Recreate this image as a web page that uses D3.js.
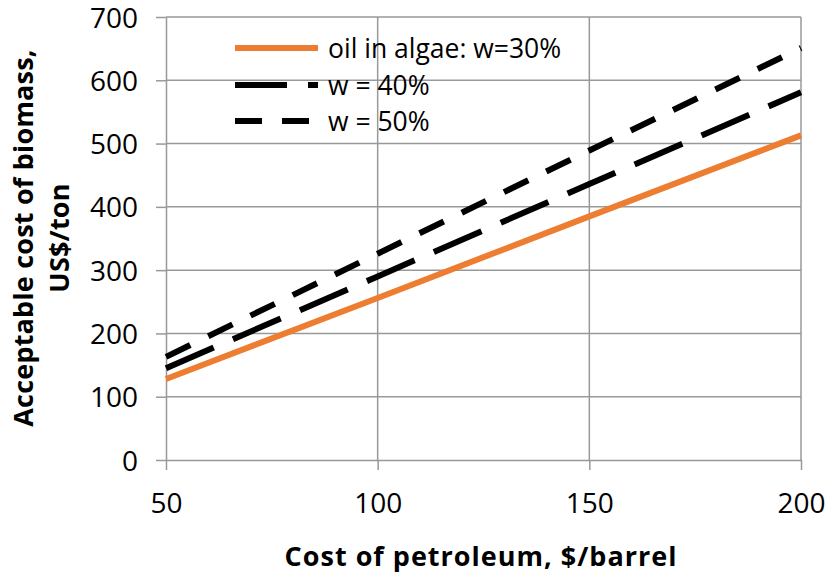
<!DOCTYPE html>
<html><head><meta charset="utf-8">
<script src="https://cdn.jsdelivr.net/npm/d3@7"></script>
<style>body{margin:0;background:#fff;} svg text{font-family:"Open Sans",sans-serif;fill:#000;}</style>
</head><body>
<svg id="c" width="827" height="574"></svg>
<script>
const petroleum = [50, 100, 150, 200];
const w30 = [128, 256, 385, 513];
const w40 = [145, 290, 436, 581];
const w50 = [163, 326, 489, 651];
const seriesNames = ["oil in algae: w=30%", "w = 40%", "w = 50%"];
const xTicks = [50, 100, 150, 200];
const yTicks = [0, 100, 200, 300, 400, 500, 600, 700];

const svg = d3.select("#c");
const x = d3.scaleLinear().domain([50, 200]).range([166, 801]);
const y = d3.scaleLinear().domain([0, 700]).range([460, 17]);
const grid = "#999";

// gridlines
svg.append("g").selectAll("line").data(yTicks.filter(d => d > 0)).join("line")
  .attr("x1", x(50)).attr("x2", x(200)).attr("y1", d => y(d)).attr("y2", d => y(d))
  .attr("stroke", grid).attr("stroke-width", 1.5);
svg.append("g").selectAll("line").data(xTicks.filter(d => d > 50)).join("line")
  .attr("x1", d => x(d)).attr("x2", d => x(d)).attr("y1", y(0)).attr("y2", y(700))
  .attr("stroke", grid).attr("stroke-width", 1.5);

// axes
const yAxis = svg.append("g").attr("transform", `translate(${x(50)},0)`)
  .call(d3.axisLeft(y).tickValues(yTicks).tickSize(10).tickPadding(18).tickSizeOuter(0));
const xAxis = svg.append("g").attr("transform", `translate(0,${y(0)})`)
  .call(d3.axisBottom(x).tickValues(xTicks).tickSize(10).tickPadding(23).tickSizeOuter(0));
[xAxis, yAxis].forEach(a => {
  a.select(".domain").attr("stroke", grid).attr("stroke-width", 1.5);
  a.selectAll(".tick line").attr("stroke", grid).attr("stroke-width", 1.5);
  a.selectAll(".tick text").attr("font-size", 28).attr("font-family", "Open Sans");
});
yAxis.selectAll(".tick text").attr("dy", "0.36em");

// lines
const data = [
  {name: seriesNames[0], vals: w30, color: "#ED7D31", dash: null},
  {name: seriesNames[1], vals: w40, color: "#000", dash: "52 21"},
  {name: seriesNames[2], vals: w50, color: "#000", dash: "27 20"}
];
const line = d3.line().x((d, i) => x(petroleum[i])).y(d => y(d));
svg.append("g").selectAll("path").data(data).join("path")
  .attr("d", d => line(d.vals)).attr("fill", "none")
  .attr("stroke", d => d.color).attr("stroke-width", 6)
  .attr("stroke-dasharray", d => d.dash);

// legend
const lg = svg.append("g");
const rows = [48, 85, 121];
data.forEach((d, i) => {
  lg.append("line").attr("x1", 235).attr("x2", 318).attr("y1", rows[i]).attr("y2", rows[i])
    .attr("stroke", d.color).attr("stroke-width", 6).attr("stroke-dasharray", d.dash);
  lg.append("text").attr("x", 328).attr("y", rows[i]).attr("dy", "0.36em")
    .attr("font-size", 26.5).text(d.name);
});

// titles
svg.append("text").attr("x", 481).attr("y", 566)
  .attr("text-anchor", "middle").attr("font-size", 27).attr("font-weight", "bold")
  .attr("letter-spacing", 1)
  .text("Cost of petroleum, $/barrel");
const yt = svg.append("text").attr("transform", "translate(0,238) rotate(-90)")
  .attr("text-anchor", "middle").attr("font-size", 27).attr("font-weight", "bold")
  .attr("letter-spacing", 0.2);
yt.append("tspan").attr("x", 0).attr("y", 24).attr("dy", "0.35em").text("Acceptable cost of biomass,");
yt.append("tspan").attr("x", 0).attr("y", 60).attr("dy", "0.35em").text("US$/ton");
</script>
</body></html>
